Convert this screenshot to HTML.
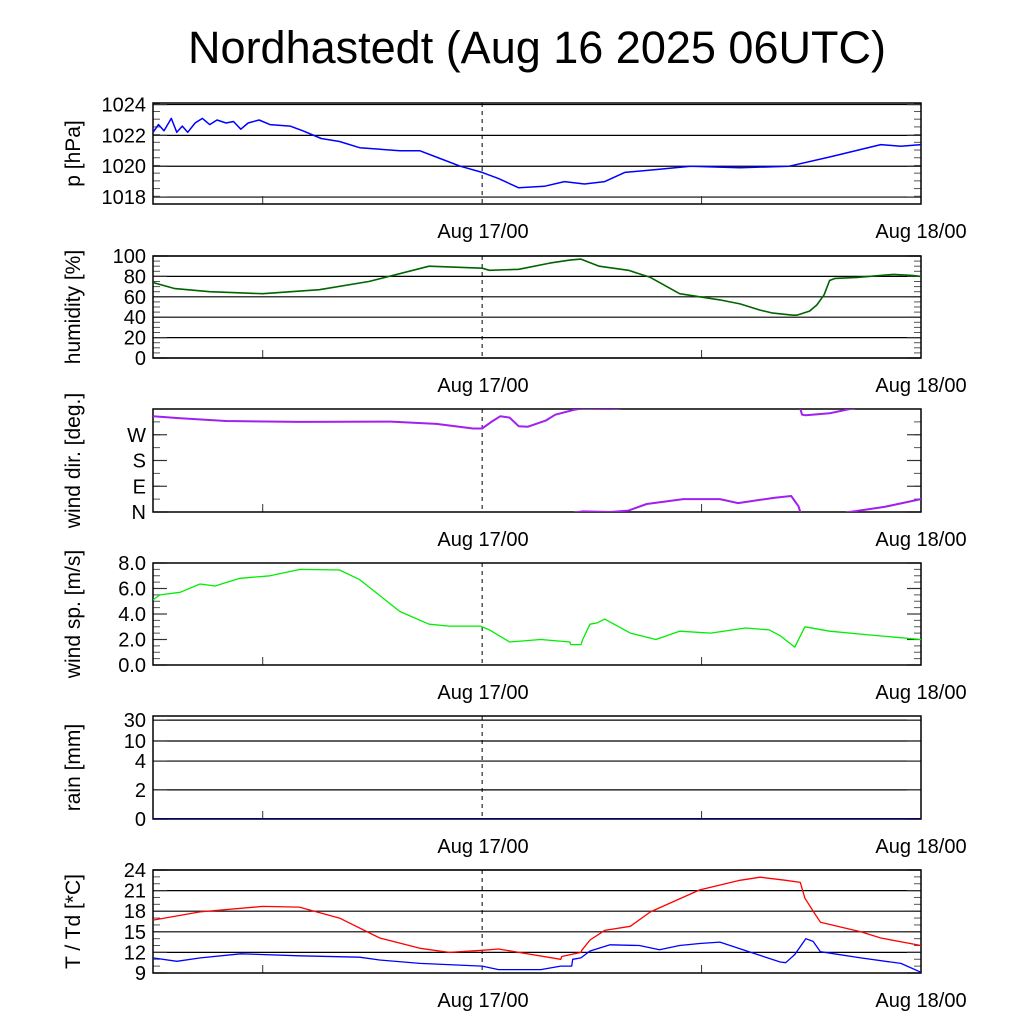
<!DOCTYPE html>
<html><head><meta charset="utf-8"><style>
body{margin:0;background:#fff}
svg text{font-family:"Liberation Sans",sans-serif;fill:#000}
</style></head><body>
<svg id="c" width="1024" height="1024" xmlns="http://www.w3.org/2000/svg">
<text x="537" y="63" font-size="45" text-anchor="middle">Nordhastedt (Aug 16 2025 06UTC)</text>
</svg>
<script>
// hours since Aug 16 06UTC
const pTimes=[0,0.3,0.6,1.0,1.3,1.6,1.9,2.3,2.7,3.1,3.5,4.0,4.4,4.8,5.2,5.8,6.4,7.5,8.2,9.2,10.2,11.3,13.5,14.6,15.7,16.8,18,18.9,20,21.4,22.5,23.6,24.7,25.8,27.7,29.4,32.1,34.8,37,39.8,40.9,42];
const pValues=[1022.2,1022.7,1022.3,1023.1,1022.2,1022.6,1022.2,1022.8,1023.1,1022.7,1023.0,1022.8,1022.9,1022.4,1022.8,1023.0,1022.7,1022.6,1022.3,1021.8,1021.6,1021.2,1021.0,1021.0,1020.5,1020.0,1019.6,1019.2,1018.6,1018.7,1019.0,1018.85,1019.0,1019.6,1019.8,1020.0,1019.9,1020.0,1020.6,1021.4,1021.3,1021.4];
const hTimes=[0,1.2,3.1,6,9.1,11.8,15.1,18,18.4,20,21.7,22.8,23.4,24.4,26,27.2,28.8,29.9,31,32.1,33.2,33.9,35,35.2,35.9,36.3,36.7,37.0,37.3,38.5,40.5,41.5,42];
const hValues=[74,68,65,63,67,75,90,88,86,87,93,96,97,90,86,79,63,60,57,53,47,44,42,42,46,52,62,76,78,79,82,81,80];
const dTimes=[0,1.5,4,8,13,15.5,17.5,18,18.5,19,19.5,20,20.5,21.5,22,23,23.5,25,26,27,29,31,32,34,34.9,35.3,35.5,35.7,37,38.1,40,42];
const dValues=[335,328,318,315,316,308,292,292,315,335,330,300,298,320,340,357,362,360,365,388,405,405,391,410,416,380,340,338,345,360,378,405];
const sTimes=[0,0.38,1.48,2.57,3.39,4.76,6.4,8.04,10.2,11.3,13.5,15.1,16.2,17.9,18.4,19.5,21.2,22.8,22.85,23.4,23.5,23.9,24.3,24.7,26.1,27.5,28.8,30.5,32.4,33.7,34.3,35.1,35.65,37,39.2,42];
const sValues=[5.1,5.5,5.7,6.35,6.2,6.8,7.0,7.5,7.45,6.7,4.2,3.2,3.05,3.05,2.75,1.8,2.0,1.8,1.6,1.6,2.0,3.2,3.3,3.6,2.5,2.0,2.65,2.5,2.9,2.75,2.3,1.4,3.0,2.65,2.35,2.0];
const rTimes=[0,42];
const rValues=[0,0];
const tTimes=[0,2.57,6,8,10.2,12.4,14.6,16.2,18,18.9,20,22.3,22.35,23.4,23.45,23.9,24.7,26.1,27.2,29.9,32.1,33.2,34.6,35.4,35.65,36.2,36.5,38.7,39.8,42];
const tValues=[16.7,17.9,18.7,18.6,17.0,14.1,12.6,12.0,12.3,12.5,12.0,11.0,11.4,12.0,12.3,13.8,15.2,15.8,17.9,21.1,22.5,22.95,22.5,22.2,19.9,17.6,16.4,15.0,14.1,13.0];
const tdTimes=[0,1.3,2.6,4.8,8,11.3,12.4,14.6,18,18.9,21.2,22.3,22.9,22.95,23.4,23.9,25,26.6,27.7,28.8,29.9,31,32.7,34.3,34.6,35.1,35.7,36.1,36.5,38.7,40.9,42];
const tdValues=[11.2,10.7,11.2,11.8,11.5,11.3,10.9,10.4,10.0,9.5,9.5,10.0,10.0,11.0,11.2,12.2,13.1,13.0,12.4,13.0,13.3,13.5,12.0,10.6,10.5,11.7,14.0,13.6,12.1,11.2,10.4,9.1];
const rainTickLabels=["0","2","4","10","30"];

const svg=document.getElementById('c');
const NS='http://www.w3.org/2000/svg';
const X0=153,X1=921,HMAX=42;
const xs=h=>X0+(X1-X0)*h/HMAX;
function el(tag,attrs,parent){const e=document.createElementNS(NS,tag);for(const k in attrs)e.setAttribute(k,attrs[k]);(parent||svg).appendChild(e);return e;}
function panel(name,top,bot,ymin,ymax,grid,majors,labels,minorStep,title){
  const g=el('g',{});
  
  
  const ys=v=>bot-(bot-top)*(v-ymin)/(ymax-ymin);
  const cid='clip-'+name;
  const cp=el('clipPath',{id:cid},g);el('rect',{x:X0,y:top,width:X1-X0,height:bot-top},cp);
  grid.forEach(v=>{const l=el('line',{x1:X0,x2:X1,y1:ys(v),y2:ys(v),stroke:'#000','stroke-width':1.2},g);
    });
  if(minorStep){for(let v=ymin;v<=ymax+1e-6;v+=minorStep){const y=ys(v);
    el('line',{x1:X0,x2:X0+7,y1:y,y2:y,stroke:'#555','stroke-width':1},g);
    el('line',{x1:X1-7,x2:X1,y1:y,y2:y,stroke:'#555','stroke-width':1},g);}}
  majors.forEach((v,i)=>{const y=ys(v);
    el('line',{x1:X0,x2:X0+14,y1:y,y2:y,stroke:'#333','stroke-width':1.2},g);
    el('line',{x1:X1-14,x2:X1,y1:y,y2:y,stroke:'#333','stroke-width':1.2},g);
    const t=el('text',{x:X0-7,y:y+7,'font-size':20,'text-anchor':'end'},g);t.textContent=labels[i];
    });
  [6,30].forEach(h=>el('line',{x1:xs(h),x2:xs(h),y1:bot,y2:bot-8,stroke:'#333'},g));
  el('line',{x1:xs(18),x2:xs(18),y1:top,y2:bot,stroke:'#000','stroke-dasharray':'4,4'},g);
  el('rect',{x:X0,y:top,width:X1-X0,height:bot-top,fill:'none',stroke:'#000','stroke-width':1.5},g);
  const a=el('text',{x:483,y:bot+34,'font-size':20,'text-anchor':'middle'},g);a.textContent='Aug 17/00';
  
  const b=el('text',{x:921,y:bot+34,'font-size':20,'text-anchor':'middle'},g);b.textContent='Aug 18/00';
  
  const cy=(top+bot)/2;
  const tt=el('text',{x:0,y:0,'font-size':21,'text-anchor':'middle',transform:`translate(80,${cy}) rotate(-90)`},g);tt.textContent=title;
  
  return {g,ys,cid};
}
function series(p,name,times,vals,color,w,shift){
  let d='';times.forEach((t,i)=>{d+=(i?'L':'M')+xs(t).toFixed(1)+','+p.ys(vals[i]+(shift||0)).toFixed(1);});
  const path=el('path',{d,fill:'none',stroke:color,'stroke-width':w,'clip-path':`url(#${p.cid})`,'stroke-linejoin':'round'},p.g);
  
  
}
const P=panel('pressure',103,204,1017.55,1024.1,[1018,1020,1022,1024],[1018,1020,1022,1024],['1018','1020','1022','1024'],0.5,'p [hPa]');
series(P,'pressure-line',pTimes,pValues,'#0000ff',1.5);
const H=panel('humidity',256,358,0,100,[0,20,40,60,80,100],[0,20,40,60,80,100],['0','20','40','60','80','100'],5,'humidity [%]');
series(H,'humidity-line',hTimes,hValues,'#006400',1.6);
const D=panel('wind-direction',409,512,0,360,[],[0,90,180,270],['N','E','S','W'],45,'wind dir. [deg.]');
[-360,0].forEach(s=>series(D,'wind-direction-line',dTimes,dValues,'#a020f0',2,s));
const S=panel('wind-speed',563,665,0,8,[],[0,2,4,6,8],['0.0','2.0','4.0','6.0','8.0'],0.5,'wind sp. [m/s]');
series(S,'wind-speed-line',sTimes,sValues,'#00ee00',1.3);
const R=panel('rain',716,819,0,4,[1.13,2.25,3.03,3.84],[0,1.13,2.25,3.03,3.84],rainTickLabels,0,'rain [mm]');
series(R,'rain-line',rTimes,rValues,'#00008b',2);
const T=panel('temperature',870,973,9,24,[12,15,18,21,24],[9,12,15,18,21,24],['9','12','15','18','21','24'],1,'T / Td [*C]');
series(T,'temperature-line',tTimes,tValues,'#ff0000',1.3);
series(T,'dewpoint-line',tdTimes,tdValues,'#0000ff',1.3);
</script>
</body></html>
